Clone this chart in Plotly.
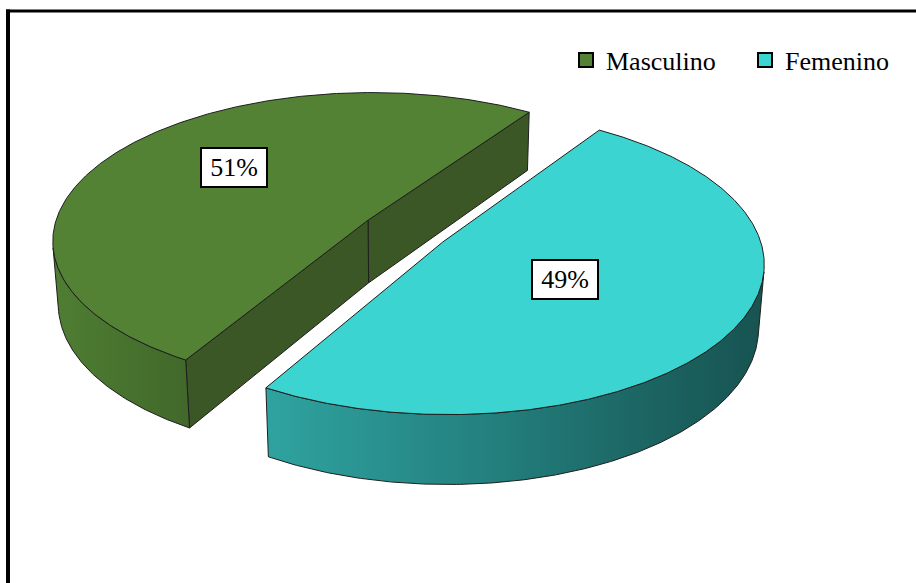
import numpy as np
import plotly.graph_objects as go

# ---------------- data ----------------
categories = ["Masculino", "Femenino"]
values = [51, 49]

# ---------------- styles ----------------
top_colors = ["#548235", "#3CD4D0"]
cut_colors = ["#3A5725", "#1E6664"]
side_scales = [
    [[0, "#4F7E32"], [1, "#41682A"]],
    [[0, "#2FA3A0"], [0.45, "#23807E"], [0.75, "#1C6664"], [1, "#175351"]],
]
legend_widths = [134, 110]
EDGE = "#1E1E1E"
FONT = "Liberation Serif, Times New Roman, serif"

# ---------------- 3D pie projection settings ----------------
W, H = 916, 583
S = 315.0          # scale (px per radius)
X0, Y0 = 405.0, 231.0
PHI = np.radians(27.8)   # elevation
DIST = 6.78        # camera distance (radii)
THICK = 0.23       # pie thickness (radii)
EXPLODE = 0.14
START = 56.0       # degrees
LABEL_R = [0.60, 0.44]
LABEL_DT = [-8.0, -1.0]

sP, cP = np.sin(PHI), np.cos(PHI)
CAM = np.array([0.0, -DIST * cP, DIST * sP])


def proj(x, y, z):
    x = np.asarray(x, float); y = np.asarray(y, float); z = np.asarray(z, float)
    v = y * sP + z * cP
    w = y * cP - z * sP
    k = 1.0 / (1.0 + w / DIST)
    return X0 + S * x * k, Y0 - S * v * k


def depth(x, y, z):
    return y * cP - z * sP


total = float(sum(values))
slices = []
a = START
for i, v in enumerate(values):
    span = 360.0 * v / total
    t1, t2 = a, a + span
    mid = np.radians((t1 + t2) / 2)
    cx, cy = EXPLODE * np.cos(mid), EXPLODE * np.sin(mid)
    slices.append(dict(i=i, t1=t1, t2=t2, cx=cx, cy=cy, mid=mid))
    a = t2

fig = go.Figure()


def poly(xs, ys, **kw):
    xs = list(xs) + [xs[0]]
    ys = list(ys) + [ys[0]]
    fig.add_trace(go.Scatter(x=xs, y=ys, mode="lines", fill="toself",
                             line=dict(color=EDGE, width=1),
                             hoverinfo="skip", showlegend=False, **kw))


# draw far slice first (painter's order)
order = sorted(slices, key=lambda s: -depth(s["cx"], s["cy"], 0.0))
for s in order:
    i, cx, cy = s["i"], s["cx"], s["cy"]
    # radial cut faces (only those facing the camera)
    for th, first in ((s["t1"], True), (s["t2"], False)):
        r = np.radians(th)
        if first:
            n = np.array([np.sin(r), -np.cos(r), 0.0])
        else:
            n = np.array([-np.sin(r), np.cos(r), 0.0])
        P = np.array([cx + 0.5 * np.cos(r), cy + 0.5 * np.sin(r), -THICK / 2])
        if np.dot(n, CAM - P) > 0:
            px = [cx, cx + np.cos(r), cx + np.cos(r), cx]
            py = [cy, cy + np.sin(r), cy + np.sin(r), cy]
            pz = [0, 0, -THICK, -THICK]
            X, Y = proj(px, py, pz)
            poly(X, Y, fillcolor=cut_colors[i])
    # outer rim side (visible part)
    th = np.radians(np.linspace(s["t1"], s["t2"], 400))
    rx, ry = cx + np.cos(th), cy + np.sin(th)
    vis = (np.cos(th) * (CAM[0] - rx) + np.sin(th) * (CAM[1] - ry)) > 0
    if vis.sum() > 1:
        idx = np.where(vis)[0]
        vx, vy = rx[idx], ry[idx]
        Xt, Yt = proj(vx, vy, np.zeros_like(vx))
        Xb, Yb = proj(vx, vy, np.full_like(vx, -THICK))
        poly(np.concatenate([Xt, Xb[::-1]]), np.concatenate([Yt, Yb[::-1]]),
             fillgradient=dict(type="horizontal", colorscale=side_scales[i]))
    # top face
    Xt, Yt = proj(np.concatenate([[cx], rx]), np.concatenate([[cy], ry]),
                  np.zeros(len(rx) + 1))
    poly(Xt, Yt, fillcolor=top_colors[i])

# percentage labels
for s in slices:
    i = s["i"]
    ang = s["mid"] + np.radians(LABEL_DT[i])
    lx, ly = proj(s["cx"] + LABEL_R[i] * np.cos(ang), s["cy"] + LABEL_R[i] * np.sin(ang), 0.0)
    fig.add_annotation(x=float(lx), y=float(ly), xref="x", yref="y",
                       text=f"{round(100 * values[i] / total)}%", showarrow=False,
                       font=dict(family=FONT, size=26, color="black"),
                       bgcolor="white", bordercolor="black", borderwidth=2,
                       borderpad=2, width=60, height=33)

# legend entries
for i, cat in enumerate(categories):
    fig.add_trace(go.Scatter(x=[None], y=[None], mode="markers", name=cat,
                             legendwidth=legend_widths[i],
                             marker=dict(symbol="square", size=14, color=top_colors[i],
                                         line=dict(color="black", width=2))))

# chart frame (left and top edges; right/bottom lie outside the picture)
fig.add_shape(type="line", xref="x", yref="y", x0=8, x1=8, y0=9.5, y1=H,
              line=dict(color="black", width=4))
fig.add_shape(type="line", xref="x", yref="y", x0=6, x1=W, y0=11, y1=11,
              line=dict(color="black", width=3))

fig.update_layout(
    width=W, height=H, autosize=False,
    margin=dict(l=0, r=0, t=0, b=0, autoexpand=False),
    font=dict(family=FONT, size=26, color="black"),
    paper_bgcolor="white", plot_bgcolor="white",
    xaxis=dict(range=[0, W], visible=False, fixedrange=True),
    yaxis=dict(range=[H, 0], visible=False, fixedrange=True),
    showlegend=True,
    legend=dict(orientation="h", x=566 / W, xanchor="left", y=1 - 60 / H, yanchor="middle",
                font=dict(family=FONT, size=26, color="black"),
                entrywidthmode="pixels", bgcolor="rgba(0,0,0,0)"),
)

fig.write_html("out.html", config={"displayModeBar": False})
with open("out.html", "r", encoding="utf-8") as f:
    html = f.read()
html = html.replace("<head>", "<head><style>html,body{margin:0;padding:0;overflow:hidden;}</style>", 1)
with open("out.html", "w", encoding="utf-8") as f:
    f.write(html)
